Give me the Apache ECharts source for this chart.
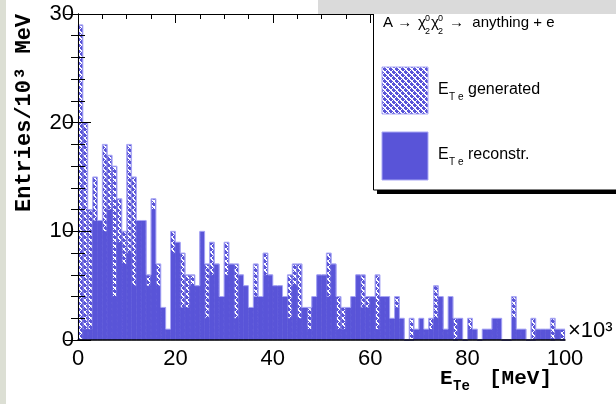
<!DOCTYPE html>
<html>
<head>
<meta charset="utf-8">
<script src="https://cdn.jsdelivr.net/npm/echarts@6/dist/echarts.min.js"></script>
<style>
html,body{margin:0;padding:0;background:#fff;}
#chart{width:616px;height:404px;}
</style>
</head>
<body>
<div id="chart"></div>
<script>
// ---- data (entries per 10^3 MeV bin, bins 0..99 ×10^3 MeV) ----
const binLow = Array.from({length: 100}, (_, i) => i);   // bin lower edges (categories)
const generated = [
  29,20,12,15,11,18,17,16,13,10,
  18,15,11,11,6,13,7,3,1,10,
  9,8,6,6,5,10,7,9,7,4,
  9,7,7,6,5,3,7,4,8,6,
  5,5,4,6,7,7,3,3,4,6,
  6,8,7,4,3,3,4,6,6,4,
  4,6,4,4,2,4,2,0,2,1,
  2,1,2,5,4,1,4,2,2,0,
  2,1,0,1,1,2,2,0,0,4,
  1,1,0,2,1,1,1,2,1,1
];
const reconstructed = [
  0,1,1,11,11,10,12,4,9,7,
  8,5,11,11,5,12,5,3,1,8,
  9,3,3,5,5,10,2,6,7,4,
  6,7,2,6,5,3,4,4,6,6,
  5,5,4,2,5,2,3,1,4,6,
  6,4,7,1,1,3,4,6,3,3,
  4,1,4,4,2,3,2,0,0,1,
  2,1,1,2,4,1,4,0,2,0,
  1,1,0,1,1,2,2,0,0,2,
  1,1,0,0,1,1,1,0,1,0
];
const xTicks = [0, 20, 40, 60, 80, 100];
const yTicks = [0, 10, 20, 30];

const BLUE = '#5954d8';
const EDGE = '#a9a7f5';

function hatchCanvas() {
  const n = 6;
  const c = document.createElement('canvas');
  c.width = n; c.height = n;
  const ctx = c.getContext('2d');
  ctx.fillStyle = BLUE; ctx.fillRect(0, 0, n, n);
  ctx.fillStyle = '#ffffff';
  for (let y = 0; y < n; y++) {
    for (let x = 0; x < n; x++) {
      const d1 = ((x - y) % n + n) % n;
      const d2 = (x + y) % n;
      if (d1 === 0 || d1 === 1 || d2 === 0) ctx.fillRect(x, y, 1, 1);
    }
  }
  return c;
}
const hatch = { image: hatchCanvas(), repeat: 'repeat' };

const outline = generated.map((v, i) => [binLow[i], v]);
outline.push([binLow[99] + 1, generated[99]]);

const chart = echarts.init(document.getElementById('chart'), null, {renderer: 'canvas'});
const tickFont = {fontFamily: 'Liberation Sans', fontSize: 22, color: '#000'};
const monoB = 'bold 22px "Liberation Mono"';
const monoX = 'bold 21px "Liberation Mono"';
const sans = '15px "Liberation Sans"';
const mid = {textVerticalAlign: 'middle', verticalAlign: 'middle', fill: '#000'};
function txt(x, y, text, font, extra) {
  return Object.assign({type: 'text', z: 53, x: x, y: y, style: Object.assign({text: text, font: font}, mid)}, extra || {});
}

chart.setOption({
  animation: false,
  backgroundColor: '#ffffff',
  grid: {left: 78, right: 51, top: 14, bottom: 64},
  xAxis: [
    {type: 'category', data: binLow, show: false, boundaryGap: true},
    {type: 'value', min: xTicks[0], max: xTicks[xTicks.length - 1], interval: 20, position: 'bottom', z: 5,
      axisLine: {show: true, lineStyle: {color: '#000', width: 1.5}},
      axisTick: {show: false}, splitLine: {show: false},
      axisLabel: Object.assign({margin: 8}, tickFont)},
    {type: 'value', min: 0, max: 100, interval: 20, position: 'top', z: 5,
      axisLine: {show: true, lineStyle: {color: '#000', width: 1}},
      axisTick: {show: true, inside: true, length: 9, lineStyle: {color: '#000'}},
      minorTick: {show: true, splitNumber: 4, length: 5, lineStyle: {color: '#000'}},
      axisLabel: {show: false}, splitLine: {show: false}}
  ],
  yAxis: [
    {type: 'value', min: yTicks[0], max: yTicks[yTicks.length - 1], interval: 10, position: 'left', z: 5,
      axisLine: {show: true, lineStyle: {color: '#000', width: 1}},
      axisTick: {show: true, inside: true, length: 13, lineStyle: {color: '#000'}},
      minorTick: {show: true, splitNumber: 5, length: 7, lineStyle: {color: '#000'}},
      axisLabel: Object.assign({margin: 4}, tickFont), splitLine: {show: false}},
    {type: 'value', min: 0, max: 30, interval: 10, position: 'right', z: 5,
      axisLine: {show: true, lineStyle: {color: '#000', width: 1}},
      axisTick: {show: true, inside: true, length: 13, lineStyle: {color: '#000'}},
      minorTick: {show: true, splitNumber: 5, length: 7, lineStyle: {color: '#000'}},
      axisLabel: {show: false}, splitLine: {show: false}}
  ],
  series: [
    {name: 'E_Te generated', type: 'bar', xAxisIndex: 0, yAxisIndex: 0, data: generated,
      barWidth: '100%', barGap: '-100%', itemStyle: {color: hatch, borderColor: BLUE, borderWidth: 0.8}, z: 2},
    {name: 'E_Te reconstr.', type: 'bar', xAxisIndex: 0, yAxisIndex: 0, data: reconstructed,
      barWidth: '100%', barGap: '-100%', itemStyle: {color: BLUE, borderColor: BLUE, borderWidth: 0.8}, z: 3},
    {name: 'outline', type: 'line', xAxisIndex: 1, yAxisIndex: 0, data: outline, step: 'end',
      symbol: 'none', lineStyle: {color: EDGE, width: 1}, z: 4, silent: true}
  ],
  graphic: [
    {type: 'rect', z: 50, shape: {x: 0, y: 0, width: 6, height: 404}, style: {fill: '#dcdfd4'}},
    {type: 'rect', z: 50, shape: {x: 377, y: 4, width: 260, height: 190}, style: {fill: '#000'}},
    {type: 'rect', z: 51, shape: {x: 373.5, y: -2, width: 260, height: 192}, style: {fill: '#fff', stroke: '#000', lineWidth: 1}},
    {type: 'rect', z: 52, shape: {x: 318, y: 0, width: 298, height: 14}, style: {fill: '#dadada'}},
    // legend header
    txt(383, 23, 'A →', sans),
    txt(418, 23, 'χ', sans),
    txt(425, 19, '0', '9px "Liberation Sans"'),
    txt(425, 32, '2', '9px "Liberation Sans"'),
    txt(431, 23, 'χ', sans),
    txt(438, 19, '0', '9px "Liberation Sans"'),
    txt(438, 32, '2', '9px "Liberation Sans"'),
    txt(449, 23, '→  anything + e', sans),
    // legend entries
    {type: 'rect', z: 53, shape: {x: 382, y: 67, width: 46, height: 47}, style: {fill: hatch, stroke: EDGE, lineWidth: 1}},
    {type: 'rect', z: 53, shape: {x: 382, y: 132, width: 46, height: 48}, style: {fill: BLUE, stroke: EDGE, lineWidth: 1}},
    txt(438, 90, 'E', '16px "Liberation Sans"'),
    txt(449, 97, 'T e', '10px "Liberation Sans"'),
    txt(468, 90, 'generated', '16px "Liberation Sans"'),
    txt(438, 155, 'E', '16px "Liberation Sans"'),
    txt(449, 162, 'T e', '10px "Liberation Sans"'),
    txt(468, 155, 'reconstr.', '16px "Liberation Sans"'),
    // axis titles
    {type: 'text', z: 53, x: 24, y: 212, rotation: Math.PI / 2,
      style: Object.assign({text: 'Entries/10³ MeV', font: monoB, textAlign: 'left', align: 'left'}, mid)},
    txt(440, 379, 'E', monoX),
    txt(453, 386, 'Te', 'bold 14px "Liberation Mono"'),
    txt(489, 379, '[MeV]', monoX),
    txt(568, 331, '×10³', '22px "Liberation Sans"')
  ]
});
</script>
</body>
</html>
